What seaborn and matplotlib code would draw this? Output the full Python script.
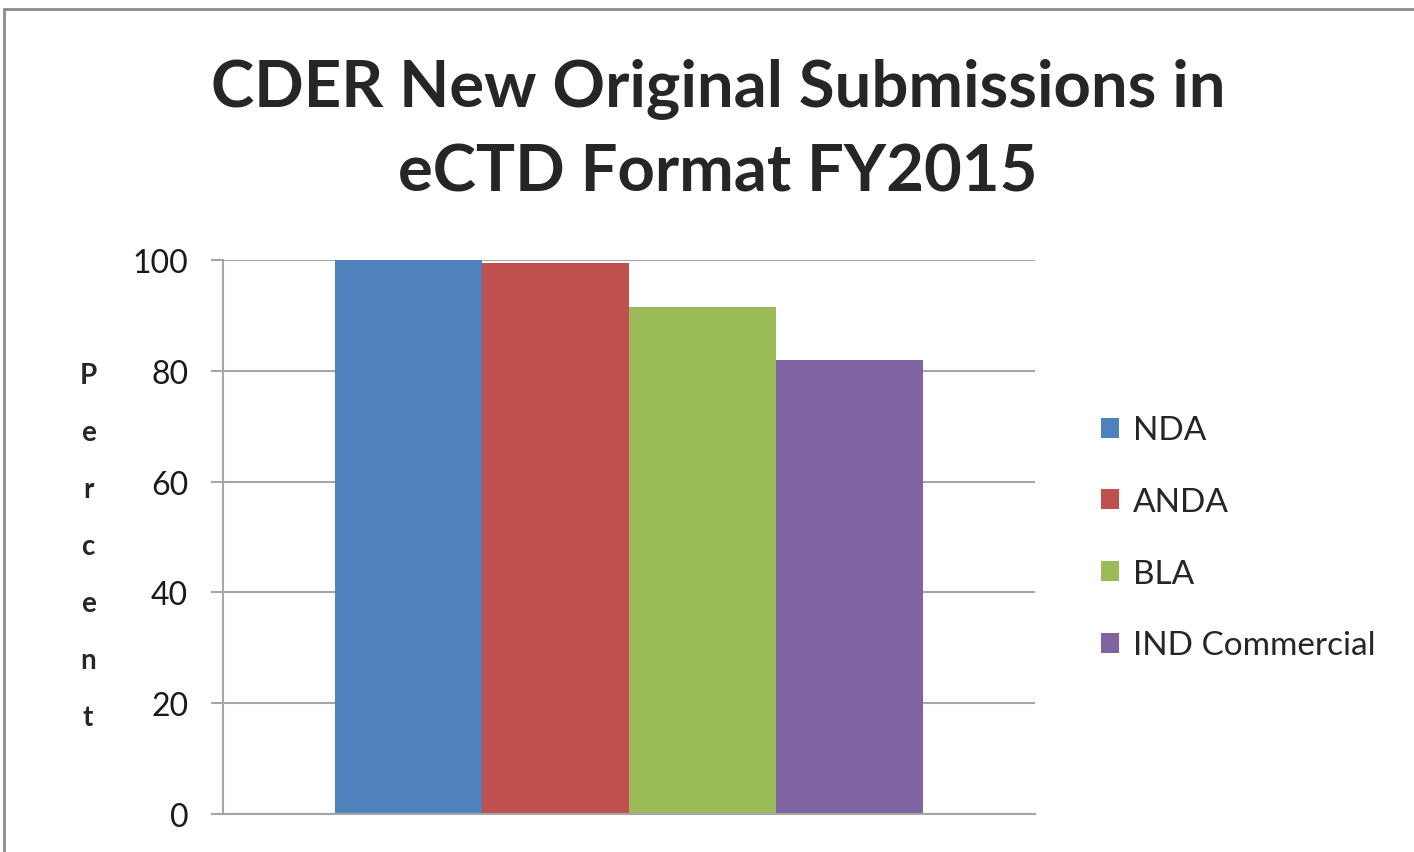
import matplotlib
matplotlib.use("Agg")
import matplotlib.pyplot as plt
import seaborn as sns
import pandas as pd
from matplotlib.patches import Rectangle

# data
categories = ["NDA", "ANDA", "BLA", "IND Commercial"]
percent = [100, 99.4, 91.5, 82.0]
colors = ["#4F81BD", "#C0504D", "#9BBB59", "#8064A2"]
yticks = [0, 20, 40, 60, 80, 100]

df = pd.DataFrame({"group": [""] * len(categories), "type": categories, "percent": percent})

sns.set_style("white")
plt.rcParams["font.family"] = ["Lato", "DejaVu Sans"]

fig = plt.figure(figsize=(14.14, 8.53), dpi=100)
ax = fig.add_axes([223 / 1414, 1 - 815 / 853, (1035 - 223) / 1414, (815 - 261) / 853])

sns.barplot(data=df, x="group", y="percent", hue="type", palette=colors,
            width=0.725, gap=0, saturation=1, ax=ax, legend=True, linewidth=0)

ax.set_xlim(-0.5, 0.5)
ax.set_ylim(0, 100)
ax.set_yticks(yticks)
ax.set_yticklabels([str(t) for t in yticks], fontsize=23, color="#1a1a1a")
ax.set_xticks([])
ax.set_xlabel("")
ax.set_ylabel("")
ax.yaxis.grid(True, color="#A6A6A6", linewidth=1.5)
ax.set_axisbelow(True)
for s in ["top", "right"]:
    ax.spines[s].set_visible(False)
for s in ["left", "bottom"]:
    ax.spines[s].set_color("#A6A6A6")
    ax.spines[s].set_linewidth(1.5)
ax.tick_params(axis="y", length=9, width=1.5, color="#A6A6A6", pad=16, direction="out", left=True)

# stacked y label
fig.text(88 / 1414, 1 - 547 / 853, "\n".join("Percent"), ha="center", va="center",
         fontsize=20, fontweight="bold", linespacing=2.48)

fig.suptitle("CDER New Original Submissions in\neCTD Format FY2015", x=718 / 1414, y=1 - 59 / 853,
             fontsize=47, fontweight="bold", va="top", linespacing=1.5)

leg = ax.legend(loc="center left", bbox_to_anchor=(1071 / 1414, 1 - 539 / 853),
                bbox_transform=fig.transFigure, frameon=False, fontsize=24,
                handlelength=0.55, handleheight=0.55, handletextpad=0.4, labelspacing=1.25)

# outer grey frame
fig.patches.append(Rectangle((4 / 1414, -0.1), 1.2, 1 - 10 / 853 + 0.1, transform=fig.transFigure,
                             fill=False, edgecolor="#8C8C8C", linewidth=2))

fig.savefig("out.png", dpi=100)
